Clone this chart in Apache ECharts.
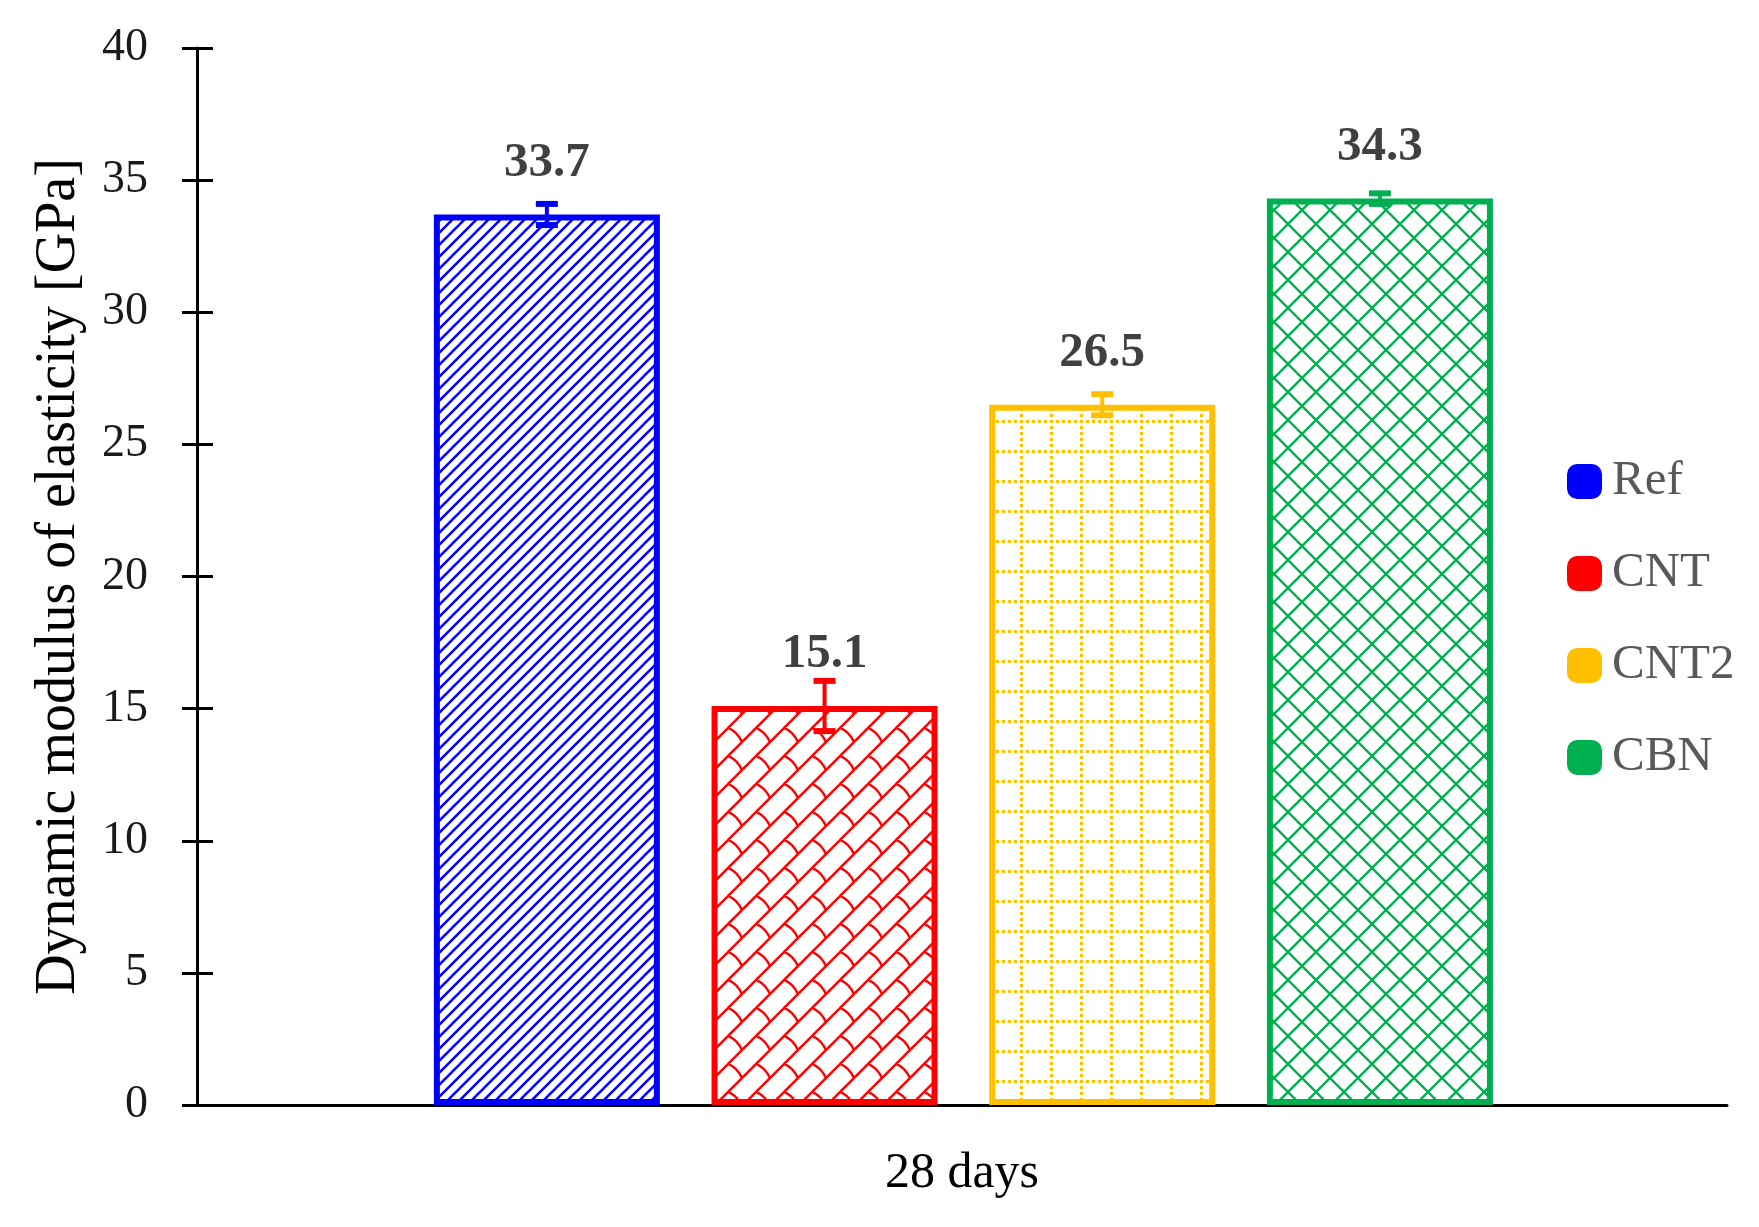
<!DOCTYPE html>
<html>
<head>
<meta charset="utf-8">
<script src="https://cdn.jsdelivr.net/npm/echarts@6/dist/echarts.min.js"></script>
<style>
html,body{margin:0;padding:0;background:#fff;}
#chart{width:1759px;height:1227px;}
</style>
</head>
<body>
<div id="chart"></div>
<script>
// ---- data ----
const categories = ['Ref', 'CNT', 'CNT2', 'CBN'];
const values = [33.7, 15.1, 26.5, 34.3];
const errors = [0.4, 0.95, 0.4, 0.2];
const groupLabel = '28 days';
const yAxisTitle = 'Dynamic modulus of elasticity [GPa]';
const yMin = 0, yMax = 40, yInterval = 5;

// ---- styles ----
const colors = ['#0000FF', '#FF0000', '#FFC000', '#00B050'];
const FONT = '"Liberation Serif", "DejaVu Serif", serif';

function makeTile(w, h, draw) {
  const c = document.createElement('canvas');
  c.width = w; c.height = h;
  const ctx = c.getContext('2d');
  ctx.fillStyle = '#fff';
  ctx.fillRect(0, 0, w, h);
  draw(ctx, w, h);
  return c;
}
const patterns = [
  // Ref: dense upward diagonal
  makeTile(12, 12, (ctx, w, h) => {
    ctx.strokeStyle = colors[0]; ctx.lineWidth = 2.6;
    ctx.beginPath();
    ctx.moveTo(-2, h + 2); ctx.lineTo(w + 2, -2);
    ctx.moveTo(-2, 2); ctx.lineTo(2, -2);
    ctx.moveTo(w - 2, h + 2); ctx.lineTo(w + 2, h - 2);
    ctx.stroke();
  }),
  // CNT: diagonal weave
  makeTile(28, 28, (ctx, w, h) => {
    ctx.strokeStyle = colors[1]; ctx.lineWidth = 2.4;
    ctx.beginPath();
    ctx.moveTo(-2, h + 2); ctx.lineTo(w + 2, -2);
    ctx.moveTo(-2, 2); ctx.lineTo(2, -2);
    ctx.moveTo(w - 2, h + 2); ctx.lineTo(w + 2, h - 2);
    ctx.moveTo(0, 0); ctx.quadraticCurveTo(w * 0.32, w * 0.12, w / 2, h / 2);
    ctx.stroke();
  }),
  // CNT2: dotted grid
  makeTile(30, 30, (ctx, w, h) => {
    ctx.strokeStyle = colors[2]; ctx.lineWidth = 3;
    ctx.setLineDash([3, 3]);
    ctx.beginPath();
    ctx.moveTo(0, 1.5); ctx.lineTo(w, 1.5);
    ctx.moveTo(1.5, 0); ctx.lineTo(1.5, h);
    ctx.stroke();
  }),
  // CBN: trellis diamonds
  makeTile(28, 28, (ctx, w, h) => {
    ctx.strokeStyle = colors[3]; ctx.lineWidth = 2.4;
    ctx.beginPath();
    ctx.moveTo(-2, h + 2); ctx.lineTo(w + 2, -2);
    ctx.moveTo(-2, -2); ctx.lineTo(w + 2, h + 2);
    ctx.moveTo(-2, 2); ctx.lineTo(2, -2);
    ctx.moveTo(w - 2, h + 2); ctx.lineTo(w + 2, h - 2);
    ctx.moveTo(-2, h - 2); ctx.lineTo(2, h + 2);
    ctx.moveTo(w - 2, -2); ctx.lineTo(w + 2, 2);
    ctx.stroke();
  })
];

const barSeries = categories.map((name, i) => ({
  name: name,
  type: 'bar',
  stack: 'all',
  barWidth: 226,
  data: [[i + 1, values[i]]],
  itemStyle: {
    color: { image: patterns[i], repeat: 'repeat' },
    borderColor: colors[i],
    borderWidth: 6
  },
  label: {
    show: true,
    position: 'top',
    distance: 27,
    formatter: p => p.value[1].toFixed(1),
    color: '#404040',
    fontFamily: FONT,
    fontWeight: 'bold',
    fontSize: 49
  },
  z: 2
}));

const errData = categories.map((n, i) => [i + 1, values[i] - errors[i], values[i] + errors[i]]);

const errSeries = {
  type: 'custom',
  z: 5,
  data: errData,
  encode: { x: 0, y: [1, 2] },
  silent: true,
  renderItem: function (params, api) {
    const x = api.value(0);
    const pLo = api.coord([x, api.value(1)]);
    const pHi = api.coord([x, api.value(2)]);
    const c = colors[params.dataIndex];
    const half = 11;
    return {
      type: 'group',
      children: [
        { type: 'line', shape: { x1: pLo[0], y1: pLo[1], x2: pHi[0], y2: pHi[1] }, style: { stroke: c, lineWidth: 4 } },
        { type: 'line', shape: { x1: pLo[0] - half, y1: pLo[1], x2: pLo[0] + half, y2: pLo[1] }, style: { stroke: c, lineWidth: 6 } },
        { type: 'line', shape: { x1: pHi[0] - half, y1: pHi[1], x2: pHi[0] + half, y2: pHi[1] }, style: { stroke: c, lineWidth: 6 } }
      ]
    };
  }
};

const chart = echarts.init(document.getElementById('chart'), null, { renderer: 'canvas' });
chart.setOption({
  backgroundColor: '#fff',
  animation: false,
  grid: { left: 197, right: 32, top: 48, bottom: 122, containLabel: false },
  legend: {
    orient: 'vertical',
    left: 1567,
    top: 457,
    padding: 0,
    itemWidth: 29,
    itemHeight: 29,
    itemGap: 43,
    icon: 'roundRect',
    data: categories.map((n, i) => ({ name: n, itemStyle: { color: colors[i], borderColor: colors[i], borderWidth: 6 } })),
    textStyle: { fontFamily: FONT, fontSize: 49, lineHeight: 35, color: '#595959', padding: [0, 0, 0, 8] }
  },
  xAxis: {
    type: 'value',
    min: -0.26,
    max: 5.25,
    axisLine: { show: true, onZero: false, lineStyle: { color: '#000', width: 3 } },
    axisTick: { show: false },
    axisLabel: { show: false },
    splitLine: { show: false },
    name: groupLabel,
    nameLocation: 'middle',
    nameGap: 44,
    nameTextStyle: { fontFamily: FONT, fontSize: 50, color: '#000' }
  },
  yAxis: [{
    type: 'value',
    min: yMin, max: yMax, interval: yInterval,
    axisLine: { show: true, onZero: false, lineStyle: { color: '#000', width: 3 } },
    axisTick: { show: true, inside: false, length: 15, lineStyle: { color: '#000', width: 3 } },
    axisLabel: { margin: 49, fontFamily: FONT, fontSize: 46, color: '#1a1a1a' },
    splitLine: { show: false },
    name: yAxisTitle,
    nameLocation: 'middle',
    nameGap: 110,
    nameTextStyle: { fontFamily: FONT, fontSize: 56, color: '#000' }
  }, {
    type: 'value',
    position: 'left',
    min: yMin, max: yMax, interval: yInterval,
    axisLine: { show: false, onZero: false },
    axisTick: { show: true, inside: true, length: 16, lineStyle: { color: '#000', width: 3 } },
    axisLabel: { show: false },
    splitLine: { show: false }
  }],
  series: barSeries.concat([errSeries])
});
</script>
</body>
</html>
